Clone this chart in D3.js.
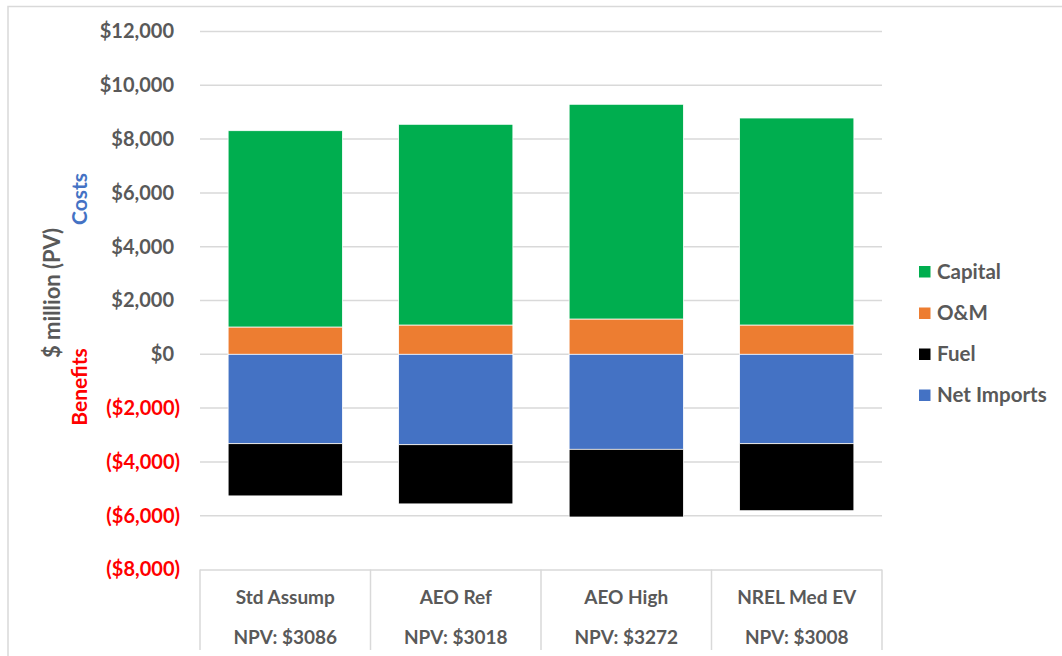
<!DOCTYPE html>
<html><head><meta charset="utf-8">
<script src="https://cdn.jsdelivr.net/npm/d3@7"></script>
<style>
html,body{margin:0;padding:0;background:#fff;}
svg{display:block;font-family:Lato,"Open Sans",sans-serif;font-weight:700;}
</style></head>
<body>
<svg id="chart" width="1062" height="656"></svg>
<script>
const categories = ["Std Assump","AEO Ref","AEO High","NREL Med EV"];
const npvLabels = ["NPV: $3086","NPV: $3018","NPV: $3272","NPV: $3008"];
const capital = [7297, 7461, 7982, 7695];
const om = [1015, 1089, 1312, 1089];
const netImports = [-3323, -3361, -3532, -3323];
const fuel = [-1941, -2200, -2516, -2491];
const yTicks = [12000,10000,8000,6000,4000,2000,0,-2000,-4000,-6000,-8000];
const seriesNames = ["Capital","O&M","Fuel","Net Imports"];
const seriesColors = {"Capital":"#00AE4F","O&M":"#ED7D31","Fuel":"#000000","Net Imports":"#4472C4"};

const svg = d3.select("#chart");
const W = 1062, H = 656;
const plot = {left:200, right:882, top:31.5, bottom:569.5};

// outer border
svg.append("rect").attr("x",8).attr("y",6.5).attr("width",W+10).attr("height",H+10)
  .attr("fill","none").attr("stroke","#d9d9d9").attr("stroke-width",1.5);

const y = d3.scaleLinear().domain([-8000,12000]).range([plot.bottom, plot.top]);
const x = d3.scaleBand().domain(categories).range([plot.left, plot.right]).paddingInner(0.33).paddingOuter(0.165);
const xFull = d3.scaleBand().domain(categories).range([plot.left, plot.right]);

// gridlines
svg.append("g").selectAll("line").data(yTicks.filter(d=>d>-8000)).join("line")
  .attr("x1",plot.left).attr("x2",plot.right)
  .attr("y1",d=>y(d)).attr("y2",d=>y(d))
  .attr("stroke","#d9d9d9").attr("stroke-width",1.5);

// y tick labels
const fmt = d => d < 0 ? "($" + d3.format(",")(-d) + ")" : "$" + d3.format(",")(d);
const yAxis = d3.axisLeft(y).tickValues(yTicks).tickFormat(fmt).tickSize(0).tickPadding(0);
const gy = svg.append("g").attr("transform",`translate(${plot.left-26},0)`).call(yAxis);
gy.select(".domain").remove();
gy.selectAll("text")
  .attr("font-family","Lato, sans-serif").attr("font-weight",700).attr("font-size",20)
  .attr("fill",d=>d<0?"#FF0000":"#595959")
  .attr("x", d => d<0 ? 6 : 0);

// stacked data
const rows = categories.map((c,i)=>({cat:c, capital:capital[i], om:om[i], netImports:netImports[i], fuel:fuel[i]}));
const segs = [];
rows.forEach(r=>{
  segs.push({cat:r.cat, s:"O&M", y0:0, y1:r.om});
  segs.push({cat:r.cat, s:"Capital", y0:r.om, y1:r.om+r.capital});
  segs.push({cat:r.cat, s:"Net Imports", y0:0, y1:r.netImports});
  segs.push({cat:r.cat, s:"Fuel", y0:r.netImports, y1:r.netImports+r.fuel});
});
svg.append("g").selectAll("rect").data(segs).join("rect")
  .attr("x",d=>x(d.cat)).attr("width",x.bandwidth())
  .attr("y",d=>Math.min(y(d.y0),y(d.y1)))
  .attr("height",d=>Math.abs(y(d.y0)-y(d.y1)))
  .attr("fill",d=>seriesColors[d.s])
  .attr("stroke","#ffffff").attr("stroke-width",0.75);

// category table
const tb = svg.append("g");
tb.append("line").attr("x1",plot.left).attr("x2",plot.right).attr("y1",plot.bottom+0.5).attr("y2",plot.bottom+0.5)
  .attr("stroke","#d9d9d9").attr("stroke-width",1.5);
const edges = categories.map(c=>xFull(c)).concat([plot.right]);
tb.selectAll("line.v").data(edges).join("line").attr("class","v")
  .attr("x1",d=>d).attr("x2",d=>d).attr("y1",plot.bottom).attr("y2",650)
  .attr("stroke","#d9d9d9").attr("stroke-width",1.5);
tb.selectAll("text.c").data(categories).join("text").attr("class","c")
  .attr("x",d=>xFull(d)+xFull.bandwidth()/2).attr("y",604)
  .attr("text-anchor","middle").attr("font-size",19).attr("fill","#595959").text(d=>d);
tb.selectAll("text.n").data(categories).join("text").attr("class","n")
  .attr("x",d=>xFull(d)+xFull.bandwidth()/2).attr("y",644)
  .attr("text-anchor","middle").attr("font-size",19).attr("fill","#595959").text((d,i)=>npvLabels[i]);

// axis titles
svg.append("text").attr("transform","translate(60,293) rotate(-90)").attr("text-anchor","middle")
  .attr("font-size",22).attr("fill","#595959").text("$ million (PV)");
svg.append("text").attr("transform","translate(87,199) rotate(-90)").attr("text-anchor","middle")
  .attr("font-size",21).attr("fill","#4472C4").text("Costs");
svg.append("text").attr("transform","translate(87,387) rotate(-90)").attr("text-anchor","middle")
  .attr("font-size",21).attr("fill","#FF0000").text("Benefits");

// legend
const legY = [271.5, 313, 354, 395];
const lg = svg.append("g").selectAll("g").data(seriesNames).join("g")
  .attr("transform",(d,i)=>`translate(919,${legY[i]})`);
lg.append("rect").attr("x",0).attr("y",-5.5).attr("width",11.5).attr("height",11.5).attr("fill",d=>seriesColors[d]);
lg.append("text").attr("x",18).attr("y",0).attr("dy","0.35em").attr("font-size",20.5).attr("fill","#595959").text(d=>d);
</script>
</body></html>
